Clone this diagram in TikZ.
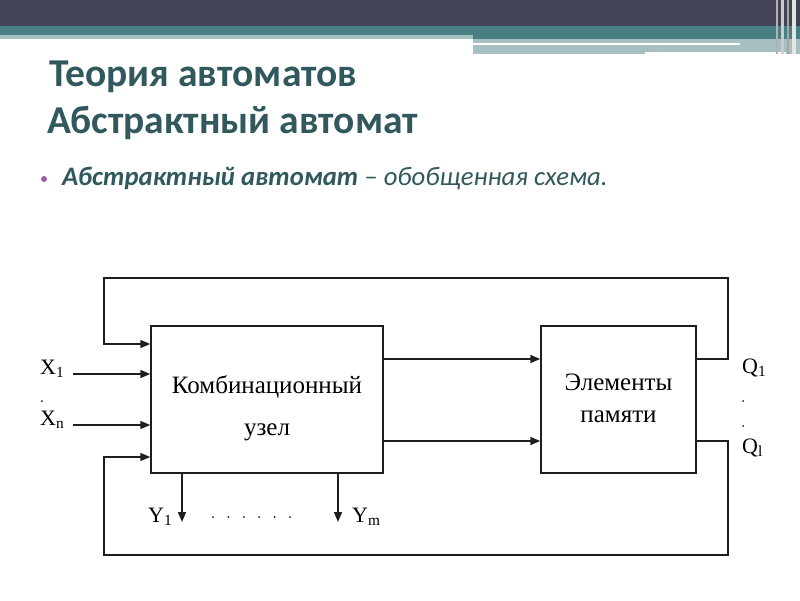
\documentclass[tikz,border=0pt]{standalone}
\usepackage{fontspec}
\setmainfont{Liberation Serif}
\newfontfamily\calibri{Carlito}
\usetikzlibrary{arrows.meta}
\definecolor{hdark}{HTML}{424456}
\definecolor{hteal}{HTML}{477F82}
\definecolor{hlight}{HTML}{A6BFC1}
\definecolor{ttl}{HTML}{31595D}
\definecolor{bul}{HTML}{9C5FA0}
\definecolor{ln}{HTML}{1E1E1E}
\tikzset{
  blk/.style={draw=ln, line width=1.5pt, inner sep=0pt},
  wire/.style={draw=ln, line width=1.5pt},
  arr/.style={wire, -{Triangle[length=10pt,width=8pt]}},
  lbl/.style={font=\fontsize{22}{24}\selectfont, inner sep=0pt, anchor=base west},
  boxtxt/.style={font=\fontsize{25}{28}\selectfont, inner sep=0pt, anchor=base},
  ttlstyle/.style={font=\calibri\bfseries\fontsize{39.5}{44}\selectfont, text=ttl, inner sep=0pt, anchor=base west},
  pdot/.style={circle, fill=ln, inner sep=0pt, minimum size=2pt},
}
\begin{document}
\begin{tikzpicture}[x=1pt, y=-1pt]
\useasboundingbox (0,0) rectangle (800,600);
\fill[white] (0,0) rectangle (800,600);
% header
\fill[hdark] (0,0) rectangle (800,26);
\fill[hteal] (0,26) rectangle (473,35);
\fill[hlight] (0,35) rectangle (473,39);
\fill[hteal] (473,26) rectangle (800,39);
\fill[hlight] (473,39) rectangle (800,54);
\fill[white] (473,43) rectangle (740,45);
\fill[white] (645,51.5) rectangle (786,54);
\fill[gray!60] (776,0) rectangle (778,54);
\fill[gray!40] (781,0) rectangle (784,54);
\fill[gray!70] (787,0) rectangle (789,54);
\fill[white!80!gray] (792,0) rectangle (796,54);
% title
\node[ttlstyle] (t1) at (49,86) {Теория автоматов};
\node[ttlstyle] (t2) at (47,133) {Абстрактный автомат};
\fill[bul] (44,179) circle (3);
\node[font=\calibri\itshape\fontsize{26.7}{30}\selectfont, text=ttl, inner sep=0pt, anchor=base west] (b1) at (62,185) {\textbf{Абстрактный автомат} – обобщенная схема.};
% boxes
\node[blk, minimum width=232pt, minimum height=147pt] (comb) at (267,399.5) {};
\node[blk, minimum width=155pt, minimum height=147pt] (mem) at (618.5,399.5) {};
\node[boxtxt] (c1) at (267,393) {Комбинационный};
\node[boxtxt] (c2) at (267,435) {узел};
\node[boxtxt] (m1) at (618.5,390) {Элементы};
\node[boxtxt] (m2) at (618.5,422) {памяти};
% internal arrows
\coordinate (ya) at (0,359);
\coordinate (yb) at (0,441);
\draw[arr] (comb.east |- ya) -- (mem.west |- ya);
\draw[arr] (comb.east |- yb) -- (mem.west |- yb);
% feedback loops
\coordinate (rt) at (728,278);
\coordinate (lt) at (104,278);
\coordinate (rb) at (728,555);
\coordinate (lb) at (104,555);
\draw[arr] (mem.east |- ya) -- (rt |- ya) -- (rt) -- (lt) -- (104,344) -- (comb.west |- 0,344);
\draw[arr] (mem.east |- yb) -- (rb |- yb) -- (rb) -- (lb) -- (104,457) -- (comb.west |- 0,457);
% inputs
\coordinate (x1s) at (73,374);
\coordinate (xns) at (73,425);
\draw[arr] (x1s) -- (comb.west |- x1s);
\draw[arr] (xns) -- (comb.west |- xns);
\node[lbl] (lx1) at (40,374) {X\textsubscript{1}};
\node[lbl] (lxn) at (40,425) {X\textsubscript{n}};
\node[pdot] (dx) at (42,401) {};
% outputs
\coordinate (y1e) at (182,522);
\coordinate (yme) at (338,522);
\draw[arr] (comb.south -| y1e) -- (y1e);
\draw[arr] (comb.south -| yme) -- (yme);
\node[lbl] (ly1) at (148,522) {Y\textsubscript{1}};
\node[lbl] (lym) at (352,522) {Y\textsubscript{m}};
\foreach \i in {0,...,5} { \node[pdot] (dy\i) at (213+15.4*\i,517) {}; }
% right labels
\node[lbl] (lq1) at (742,373) {Q\textsubscript{1}};
\node[lbl] (lql) at (742,453) {Q\textsubscript{l}};
\node[pdot] (dq1) at (743,401) {};
\node[pdot] (dq2) at (743,426) {};
\end{tikzpicture}
\end{document}
